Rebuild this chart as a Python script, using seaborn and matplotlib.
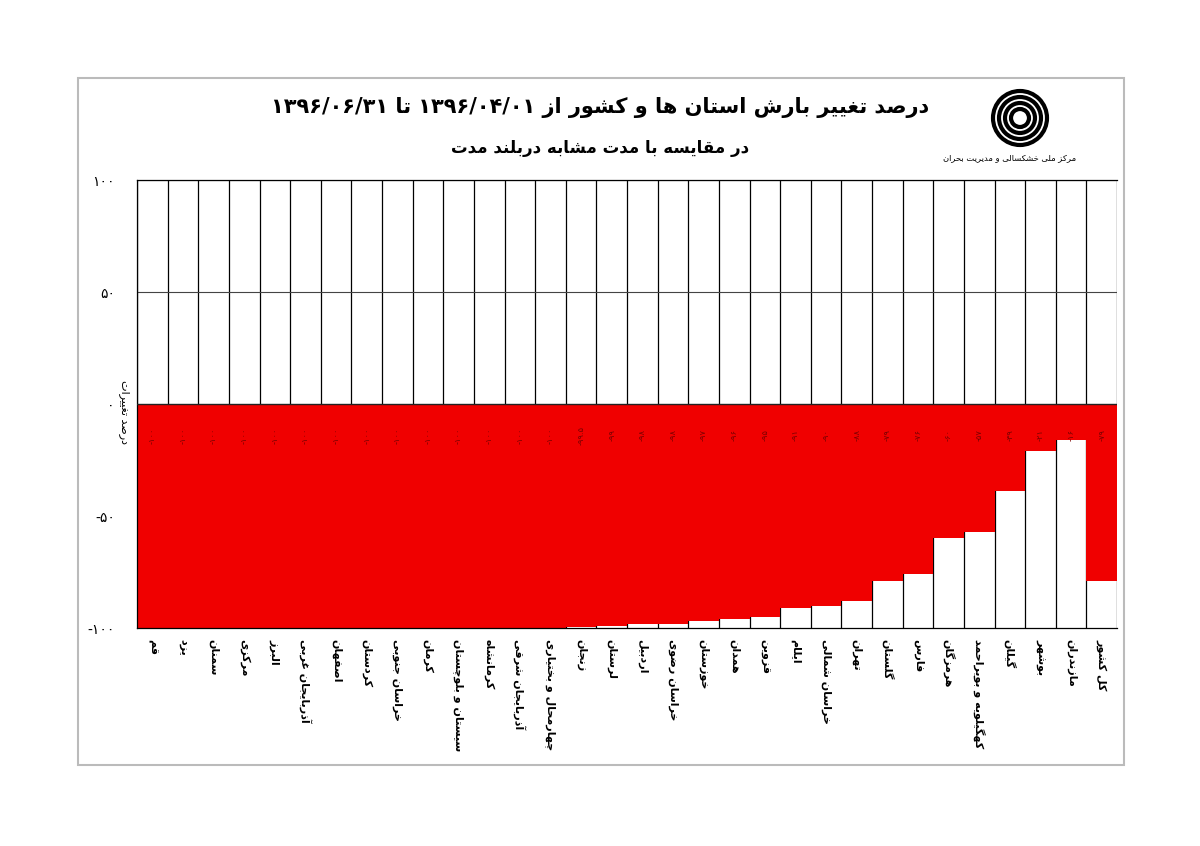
import matplotlib
matplotlib.use("Agg")
import matplotlib.pyplot as plt
import seaborn as sns
import pandas as pd
from matplotlib.patches import Rectangle

provinces = ["قم", "یزد", "سمنان", "مرکزی", "البرز", "آذربایجان غربی", "اصفهان", "کردستان",
             "خراسان جنوبی", "کرمان", "سیستان و بلوچستان", "کرمانشاه", "آذربایجان شرقی",
             "چهارمحال و بختیاری", "زنجان", "لرستان", "اردبیل", "خراسان رضوی", "خوزستان",
             "همدان", "قزوین", "ایلام", "خراسان شمالی", "تهران", "گلستان", "فارس", "هرمزگان",
             "کهگیلویه و بویراحمد", "گیلان", "بوشهر", "مازندران", "کل کشور"]
values = [-100, -100, -100, -100, -100, -100, -100, -100, -100, -100, -100, -100, -100, -100,
          -99.5, -99, -98, -98, -97, -96, -95, -91, -90, -88, -79, -76, -60, -57, -39, -21, -16, -79]
yticks = [-100, -50, 0, 50, 100]

FORMS = {
 'ا':(0xFE8D,0xFE8E,None,None),'آ':(0xFE81,0xFE82,None,None),'ب':(0xFE8F,0xFE90,0xFE91,0xFE92),
 'پ':(0xFB56,0xFB57,0xFB58,0xFB59),'ت':(0xFE95,0xFE96,0xFE97,0xFE98),'ث':(0xFE99,0xFE9A,0xFE9B,0xFE9C),
 'ج':(0xFE9D,0xFE9E,0xFE9F,0xFEA0),'چ':(0xFB7A,0xFB7B,0xFB7C,0xFB7D),'ح':(0xFEA1,0xFEA2,0xFEA3,0xFEA4),
 'خ':(0xFEA5,0xFEA6,0xFEA7,0xFEA8),'د':(0xFEA9,0xFEAA,None,None),'ذ':(0xFEAB,0xFEAC,None,None),
 'ر':(0xFEAD,0xFEAE,None,None),'ز':(0xFEAF,0xFEB0,None,None),'ژ':(0xFB8A,0xFB8B,None,None),
 'س':(0xFEB1,0xFEB2,0xFEB3,0xFEB4),'ش':(0xFEB5,0xFEB6,0xFEB7,0xFEB8),'ص':(0xFEB9,0xFEBA,0xFEBB,0xFEBC),
 'ض':(0xFEBD,0xFEBE,0xFEBF,0xFEC0),'ط':(0xFEC1,0xFEC2,0xFEC3,0xFEC4),'ظ':(0xFEC5,0xFEC6,0xFEC7,0xFEC8),
 'ع':(0xFEC9,0xFECA,0xFECB,0xFECC),'غ':(0xFECD,0xFECE,0xFECF,0xFED0),'ف':(0xFED1,0xFED2,0xFED3,0xFED4),
 'ق':(0xFED5,0xFED6,0xFED7,0xFED8),'ک':(0xFB8E,0xFB8F,0xFB90,0xFB91),'گ':(0xFB92,0xFB93,0xFB94,0xFB95),
 'ل':(0xFEDD,0xFEDE,0xFEDF,0xFEE0),'م':(0xFEE1,0xFEE2,0xFEE3,0xFEE4),'ن':(0xFEE5,0xFEE6,0xFEE7,0xFEE8),
 'و':(0xFEED,0xFEEE,None,None),'ه':(0xFEE9,0xFEEA,0xFEEB,0xFEEC),'ی':(0xFBFC,0xFBFD,0xFBFE,0xFBFF),
}

def shape(s):
    out = []
    n = len(s)
    for i, ch in enumerate(s):
        if ch not in FORMS:
            out.append(ch); continue
        f = FORMS[ch]
        prev = s[i-1] if i > 0 else None
        nxt = s[i+1] if i < n-1 else None
        jp = prev in FORMS and FORMS[prev][2] is not None
        jn = nxt in FORMS and f[2] is not None
        if jp and jn: c = f[3]
        elif jp: c = f[1]
        elif jn: c = f[2]
        else: c = f[0]
        out.append(chr(c))
    rev = ''.join(out)[::-1]
    res, run = [], []
    for ch in rev:
        if ch.isdigit() or ch in '/-':
            run.append(ch)
        else:
            if run: res.append(''.join(run[::-1])); run = []
            res.append(ch)
    if run: res.append(''.join(run[::-1]))
    return ''.join(res)

def fa(n):
    s = str(int(n)) if float(n).is_integer() else str(n)
    return s.translate(str.maketrans('0123456789', '۰۱۲۳۴۵۶۷۸۹'))

plt.rcParams['font.family'] = ['DejaVu Sans']
fig = plt.figure(figsize=(12, 8.46), dpi=100)
fig.patches.append(Rectangle((78/1200, 1-765/846), (1124-78)/1200, (765-78)/846,
                             transform=fig.transFigure, fill=False, ec='#bbbbbb', lw=1.5))
ax = fig.add_axes([137/1200, 1-628/846, 980/1200, 448/846])

df = pd.DataFrame({'p': provinces, 'v': values})
sns.barplot(data=df, x='p', y='v', color='#f00000', width=1.0, saturation=1, ax=ax, zorder=2)
ax.set_ylim(-100, 100)
ax.set_xlim(-0.5, len(provinces)-0.5)
for i in range(len(provinces)+1):
    ax.axvline(i-0.5, color='black', lw=0.9, zorder=1)
for y in [50, 100]:
    ax.axhline(y, color='#444444', lw=0.8, zorder=1)
ax.axhline(0, color='#222222', lw=1.0, zorder=3)
for i, v in enumerate(values):
    ax.text(i, -14, fa(v), ha='center', va='center', fontsize=6, color='#7a0000', rotation=90, zorder=4)
ax.set_yticks(yticks)
ax.set_yticklabels([fa(t) if t >= 0 else '-' + fa(-t) for t in yticks], fontsize=10)
ax.set_xticks(range(len(provinces)))
ax.set_xticklabels([shape(p) for p in provinces], rotation=-90, fontsize=8, fontweight='bold', va='top')
ax.tick_params(axis='x', length=0, pad=8)
ax.tick_params(axis='y', length=0, pad=16)
ax.set_xlabel('')
ax.set_ylabel('')
fig.text(124/1200, 1-412/846, shape('درصد تغییرات'), fontsize=8, rotation=-90, ha='center', va='center')
for s in ax.spines.values():
    s.set_color('black'); s.set_linewidth(0.9)
ax.spines['right'].set_visible(False)

fig.text(0.5, 1-108/846, shape('درصد تغییر بارش استان ها و کشور از ۱۳۹۶/۰۴/۰۱ تا ۱۳۹۶/۰۶/۳۱'),
         ha='center', va='center', fontsize=15, fontweight='bold')
fig.text(0.5, 1-148/846, shape('در مقایسه با مدت مشابه دربلند مدت'),
         ha='center', va='center', fontsize=12, fontweight='bold')
fig.text(1010/1200, 1-158/846, shape('مرکز ملی خشکسالی و مدیریت بحران'),
         ha='center', va='center', fontsize=6)
logo = fig.add_axes([990/1200, 1-148/846, 60/1200, 60/846])
for r in [0.9, 0.7, 0.5, 0.3]:
    logo.add_patch(plt.Circle((0.5, 0.5), r/2, fill=False, lw=3, color='black'))
logo.set_xlim(0, 1); logo.set_ylim(0, 1); logo.set_aspect('equal'); logo.axis('off')

fig.savefig('out.png', dpi=100, facecolor='white')
